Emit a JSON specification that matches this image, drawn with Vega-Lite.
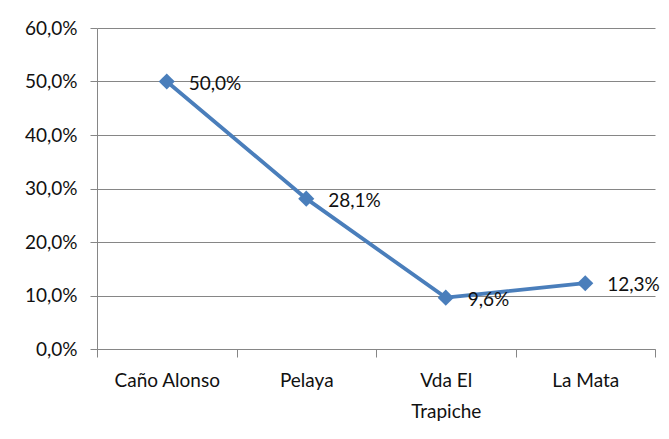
{
  "$schema": "https://vega.github.io/schema/vega-lite/v6.json",
  "width": 558,
  "height": 321,
  "autosize": {"type": "none"},
  "padding": {"left": 97, "top": 28, "right": 14, "bottom": 90},
  "background": "white",
  "config": {
    "locale": {"number": {"decimal": ",", "thousands": ".", "grouping": [3], "currency": ["", " €"]}},
    "view": {"stroke": null},
    "font": "Lato"
  },
  "data": {
    "values": [
      {"zona": "Caño Alonso", "pct": 0.5},
      {"zona": "Pelaya", "pct": 0.281},
      {"zona": "Vda El Trapiche", "pct": 0.096},
      {"zona": "La Mata", "pct": 0.123}
    ]
  },
  "encoding": {
    "x": {
      "field": "zona", "type": "nominal", "sort": null, "title": null,
      "scale": {"paddingInner": 0, "paddingOuter": 0},
      "axis": {
        "labelAngle": 0, "labelFont": "Lato", "labelFontSize": 19, "labelColor": "#111",
        "labelPadding": 14, "labelLineHeight": 31,
        "labelExpr": "datum.value == 'Vda El Trapiche' ? ['Vda El', 'Trapiche'] : datum.value",
        "domainColor": "#868686", "tickColor": "#868686", "tickSize": 8,
        "tickBand": "extent", "grid": false
      }
    },
    "y": {
      "field": "pct", "type": "quantitative", "title": null,
      "scale": {"domain": [0, 0.6]},
      "axis": {
        "values": [0, 0.1, 0.2, 0.3, 0.4, 0.5, 0.6], "format": ".1%",
        "labelFont": "Lato", "labelFontSize": 19, "labelColor": "#111", "labelPadding": 13,
        "domainColor": "#868686", "tickColor": "#868686", "tickSize": 7,
        "gridColor": "#868686", "gridWidth": 1
      }
    }
  },
  "layer": [
    {"mark": {"type": "line", "color": "#4a7ebb", "strokeWidth": 3.8}},
    {"mark": {"type": "point", "shape": "diamond", "filled": true, "size": 260, "color": "#4a7ebb", "opacity": 1}},
    {
      "mark": {"type": "text", "align": "left", "baseline": "middle", "dx": 22, "dy": 2, "fontSize": 19, "font": "Lato", "color": "#111"},
      "encoding": {"text": {"field": "pct", "type": "quantitative", "format": ".1%"}}
    }
  ]
}
